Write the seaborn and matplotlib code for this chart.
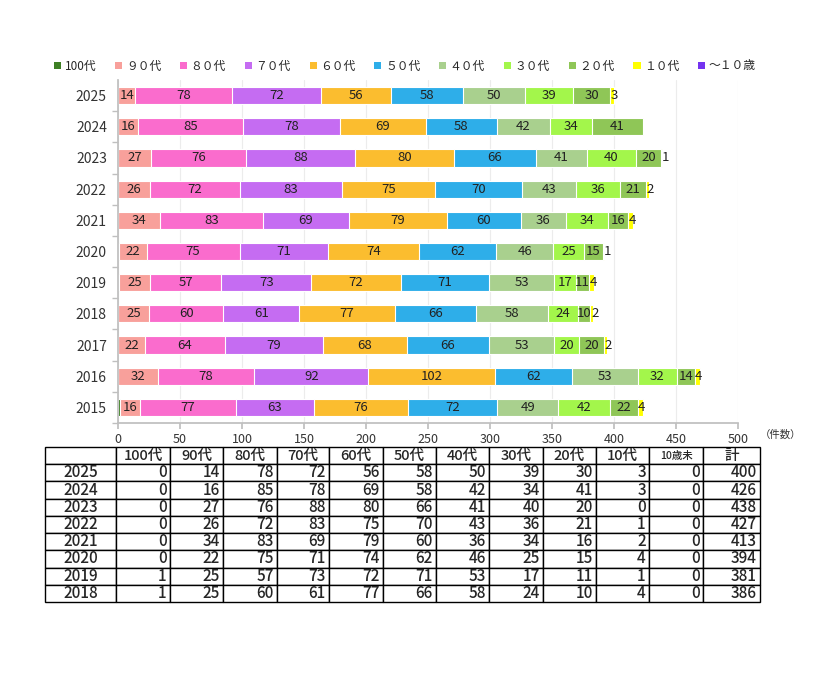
import numpy as np
import seaborn as sns
import matplotlib.pyplot as plt
from matplotlib.table import Table
from matplotlib.patches import Patch

# chart rows (top to bottom)
years = ["2025", "2024", "2023", "2022", "2021", "2020", "2019", "2018", "2017", "2016", "2015"]
groups = ["100代", "９０代", "８０代", "７０代", "６０代", "５０代", "４０代", "３０代", "２０代", "１０代", "～１０歳"]
colors = ["#3d7f24", "#f8a09b", "#fa6ccd", "#c56cf2", "#fbbd2f", "#2eaee9",
          "#a9d08e", "#a3f64b", "#8fc657", "#ffff00", "#7433f0"]

age100 = [0, 0, 0, 0, 0, 1, 1, 0, 0, 0, 2]
age90 = [14, 16, 27, 26, 34, 22, 25, 25, 22, 32, 16]
age80 = [78, 85, 76, 72, 83, 75, 57, 60, 64, 78, 77]
age70 = [72, 78, 88, 83, 69, 71, 73, 61, 79, 92, 63]
age60 = [56, 69, 80, 75, 79, 74, 72, 77, 68, 102, 76]
age50 = [58, 58, 66, 70, 60, 62, 71, 66, 66, 62, 72]
age40 = [50, 42, 41, 43, 36, 46, 53, 58, 53, 53, 49]
age30 = [39, 34, 40, 36, 34, 25, 17, 24, 20, 32, 42]
age20 = [30, 41, 20, 21, 16, 15, 11, 10, 20, 14, 22]
age10 = [3, 0, 1, 2, 4, 1, 4, 2, 2, 4, 4]
under10 = [0, 0, 0, 0, 0, 0, 0, 0, 0, 0, 0]

# table below the chart
table_years = ["2025", "2024", "2023", "2022", "2021", "2020", "2019", "2018"]
table_cols = ["100代", "90代", "80代", "70代", "60代", "50代", "40代", "30代", "20代", "10代", "10歳未", "計"]
table_rows = [
    [0, 14, 78, 72, 56, 58, 50, 39, 30, 3, 0, 400],
    [0, 16, 85, 78, 69, 58, 42, 34, 41, 3, 0, 426],
    [0, 27, 76, 88, 80, 66, 41, 40, 20, 0, 0, 438],
    [0, 26, 72, 83, 75, 70, 43, 36, 21, 1, 0, 427],
    [0, 34, 83, 69, 79, 60, 36, 34, 16, 2, 0, 413],
    [0, 22, 75, 71, 74, 62, 46, 25, 15, 4, 0, 394],
    [1, 25, 57, 73, 72, 71, 53, 17, 11, 1, 0, 381],
    [1, 25, 60, 61, 77, 66, 58, 24, 10, 4, 0, 386],
]

sns.set_theme(style="white")
plt.rcParams["font.family"] = ["Noto Sans CJK JP", "DejaVu Sans"]

series = np.array([age100, age90, age80, age70, age60, age50, age40,
                   age30, age20, age10, under10], dtype=float)
cum = series.cumsum(axis=0)

fig = plt.figure(figsize=(8.3, 6.75), dpi=100)
ax = fig.add_axes([118 / 830, 1 - 423 / 675, 620 / 830, 343 / 675])

# stacked bars: draw the longest cumulative first, shorter ones on top
for k in range(len(groups) - 1, -1, -1):
    sns.barplot(x=cum[k], y=years, orient="h", color=colors[k], saturation=1,
                width=0.55, edgecolor="white", linewidth=0.8, ax=ax)

for k in range(1, len(groups)):
    for i, v in enumerate(series[k]):
        if v <= 0:
            continue
        if k == 9:
            # tiny 10代 segment: label starts at the segment
            ax.text(cum[k - 1][i] + 0.5, i, f"{int(v)}", ha="left", va="center",
                    fontsize=9.5, color="#222222")
        else:
            ax.text(cum[k][i] - v / 2, i, f"{int(v)}", ha="center", va="center",
                    fontsize=9.5, color="#222222")

ax.set_xlim(0, 500)
ax.set_ylim(len(years) - 0.5, -0.5)
ax.set_xticks(np.arange(0, 501, 50))
ax.set_xlabel("")
ax.set_ylabel("")
ax.set_yticks(np.arange(len(years)))
ax.set_yticklabels(years)
ax.set_yticks(np.arange(len(years)) + 0.5, minor=True)
ax.tick_params(axis="y", which="major", length=0, labelsize=10, pad=8, colors="#333333")
ax.tick_params(axis="y", which="minor", length=4, color="#bfbfbf", direction="out", left=True)
ax.tick_params(axis="x", length=4, color="#bfbfbf", labelsize=9, colors="#333333", bottom=True)
ax.xaxis.grid(True, color="#ececec", linewidth=0.8)
ax.set_axisbelow(True)
for side in ["top", "right"]:
    ax.spines[side].set_visible(False)
for side in ["left", "bottom"]:
    ax.spines[side].set_color("#bfbfbf")
ax.text(1.035, -0.035, "（件数）", transform=ax.transAxes, fontsize=7.5,
        color="#333333", ha="left", va="center")

handles = [Patch(facecolor=c, edgecolor="none") for c in colors]
fig.legend(handles, groups, ncol=11, loc="center", bbox_to_anchor=(405 / 830, 1 - 66 / 675),
           frameon=False, fontsize=8.5, handlelength=0.6, handleheight=0.6,
           handletextpad=0.3, columnspacing=1.6)

# data table
tax = fig.add_axes([45 / 830, 1 - 602 / 675, 715 / 830, 155 / 675])
tax.axis("off")
widths = [71, 54, 53, 54, 52, 54, 53, 53, 54, 53, 53, 54, 57]
widths = [w / sum(widths) for w in widths]
nrow = len(table_years) + 1
h = 1.0 / nrow
tbl = Table(tax, bbox=[0, 0, 1, 1])
header = [""] + table_cols
for j, name in enumerate(header):
    c = tbl.add_cell(0, j, widths[j], h, text=name, loc="center", edgecolor="black")
    c.get_text().set_fontsize(7.5 if name == "10歳未" else 10.5)
    c.get_text().set_fontweight("medium")
for i, yr in enumerate(table_years):
    c = tbl.add_cell(i + 1, 0, widths[0], h, text=yr, loc="center", edgecolor="black")
    c.get_text().set_fontsize(11)
    c.get_text().set_fontweight("medium")
    for j, v in enumerate(table_rows[i]):
        c = tbl.add_cell(i + 1, j + 1, widths[j + 1], h, text=str(v), loc="right", edgecolor="black")
        c.get_text().set_fontsize(11)
        c.get_text().set_fontweight("medium")
        c.PAD = 0.06
tbl.auto_set_font_size(False)
for cell in tbl.get_celld().values():
    cell.set_linewidth(1.0)
tax.add_table(tbl)

fig.savefig("out.png", dpi=100)
